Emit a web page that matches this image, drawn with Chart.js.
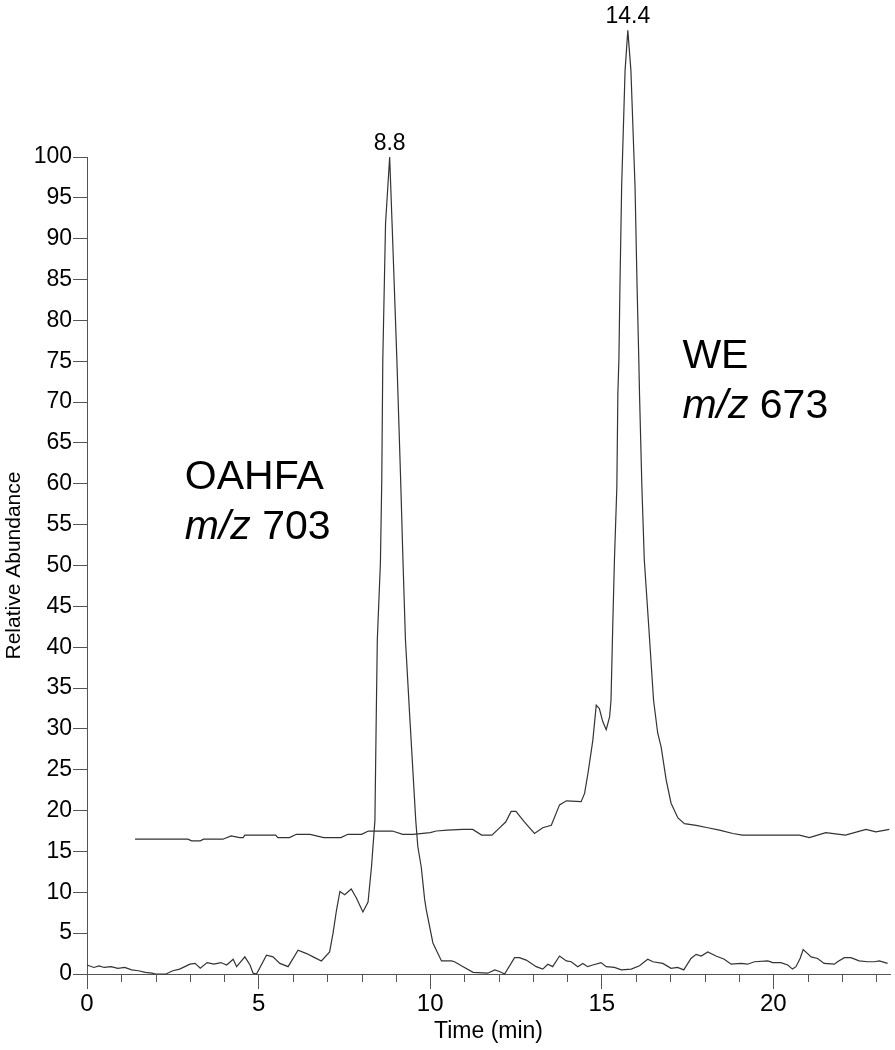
<!DOCTYPE html>
<html>
<head>
<meta charset="utf-8">
<script src="https://cdn.jsdelivr.net/npm/chart.js@4.4.1/dist/chart.umd.min.js"></script>
<style>
  html, body { margin: 0; padding: 0; background: #fff; }
  #wrap { width: 895px; height: 1050px; }
</style>
</head>
<body>
<div id="wrap"><canvas id="chrom" width="895" height="1050"></canvas></div>
<script>
// Extracted ion chromatograms. Times in minutes, abundance in % of the OAHFA apex.
// The WE trace sits on the instrument's offset baseline (starts ~1.4 min, ~16.5 %).
const timeOahfa = [
  0, 0.2, 0.35, 0.5, 0.7, 0.9, 1.1, 1.3, 1.5, 1.7, 1.9, 2.0, 2.3, 2.5, 2.7, 2.85,
  3.0, 3.15, 3.3, 3.5, 3.7, 3.9, 4.07, 4.26, 4.36, 4.6, 4.75, 4.84, 4.94, 5.23, 5.42, 5.62,
  5.86, 6.15, 6.4, 6.59, 6.83, 7.07, 7.17, 7.27, 7.37, 7.51, 7.7, 7.85, 8.04, 8.19, 8.29, 8.39,
  8.43, 8.46, 8.55, 8.59, 8.62, 8.7, 8.82, 8.89, 9.03, 9.14, 9.21, 9.28, 9.4, 9.58, 9.64, 9.74,
  9.84, 9.89, 10.08, 10.33, 10.62, 10.71, 10.96, 11.25, 11.68, 11.88, 12.02, 12.17, 12.46, 12.6, 12.8, 13.09,
  13.28, 13.43, 13.57, 13.77, 13.97, 14.11, 14.3, 14.45, 14.59, 14.74, 14.98, 15.13, 15.37, 15.57, 15.86, 16.1,
  16.34, 16.49, 16.78, 17.02, 17.21, 17.39, 17.6, 17.75, 17.9, 18.09, 18.33, 18.57, 18.77, 19.06, 19.25, 19.45,
  19.84, 19.98, 20.22, 20.42, 20.56, 20.66, 20.78, 20.87, 21.0, 21.1, 21.29, 21.48, 21.78, 21.87, 22.07, 22.26,
  22.5, 22.75, 22.94, 23.09, 23.33
];
const abundOahfa = [
  1.1, 0.8, 1.0, 0.8, 0.9, 0.7, 0.8, 0.5, 0.4, 0.2, 0.1, 0, 0, 0.4, 0.6, 0.9,
  1.2, 1.3, 0.7, 1.4, 1.2, 1.4, 1.1, 1.8, 0.9, 2.1, 1.1, 0.1, 0, 2.3, 2.1, 1.3,
  0.9, 2.9, 2.5, 2.1, 1.6, 2.7, 5.0, 7.8, 10.1, 9.7, 10.4, 9.3, 7.6, 8.8, 13.1, 18.8,
  31.9, 40.9, 50.3, 60.5, 75.2, 91.9, 100, 91.9, 75.2, 60.5, 50.3, 40.9, 31.9, 18.8, 15.6, 13.1,
  9.1, 7.8, 3.8, 1.6, 1.6, 1.5, 0.9, 0.2, 0.1, 0.5, 0.3, 0, 2.0, 2.0, 1.7, 0.9,
  0.6, 1.2, 0.9, 2.2, 1.6, 1.5, 0.9, 1.3, 0.9, 1.1, 1.4, 0.9, 0.8, 0.5, 0.6, 1.0,
  1.8, 1.5, 1.3, 0.7, 0.8, 0.5, 1.9, 2.4, 2.2, 2.7, 2.2, 1.8, 1.2, 1.3, 1.2, 1.5,
  1.6, 1.4, 1.4, 1.1, 0.6, 0.9, 1.9, 3.0, 2.5, 2.1, 1.9, 1.3, 1.2, 1.5, 2.0, 2.0,
  1.6, 1.5, 1.5, 1.6, 1.3
];

const timeWe = [
  1.4, 2.94, 3.05, 3.3, 3.4, 3.96, 4.2, 4.45, 4.55, 4.6, 5.5, 5.56, 5.9, 6.1, 6.5, 6.9,
  7.4, 7.6, 8.0, 8.2, 8.9, 9.2, 9.5, 10.0, 10.18, 10.5, 10.95, 11.24, 11.5, 11.8, 12.0, 12.2,
  12.36, 12.5, 12.75, 13.04, 13.28, 13.53, 13.77, 13.97, 14.4, 14.5, 14.6, 14.74, 14.84, 14.93, 15.03, 15.13,
  15.23, 15.27, 15.32, 15.37, 15.44, 15.47, 15.5, 15.53, 15.58, 15.68, 15.76, 15.85, 15.97, 16.03, 16.08, 16.1,
  16.17, 16.24, 16.37, 16.51, 16.63, 16.73, 16.88, 17.02, 17.22, 17.41, 17.75, 18.09, 18.43, 18.82, 19.1, 20.76,
  21.05, 21.53, 22.1, 22.7, 22.99, 23.38
];
const abundWe = [
  16.5, 16.5, 16.3, 16.3, 16.5, 16.5, 16.9, 16.7, 16.7, 17.0, 17.0, 16.7, 16.7, 17.1, 17.1, 16.7,
  16.7, 17.1, 17.1, 17.5, 17.5, 17.1, 17.1, 17.3, 17.5, 17.6, 17.7, 17.7, 17.0, 17.0, 17.8, 18.6,
  19.9, 19.9, 18.6, 17.2, 17.9, 18.2, 20.7, 21.2, 21.1, 22.1, 24.6, 28.6, 32.9, 32.5, 30.9, 29.9,
  31.5, 33.5, 42.5, 50.7, 59.6, 71.1, 75.2, 84.1, 96.4, 110.6, 115.5, 110.6, 96.4, 84.1, 75.2, 71.1,
  59.6, 50.7, 42.5, 33.5, 29.5, 27.8, 23.7, 20.9, 19.1, 18.4, 18.2, 17.9, 17.6, 17.2, 17.0, 17.0,
  16.7, 17.3, 17.0, 17.7, 17.4, 17.7
];

const xMajorTicks = [0, 5, 10, 15, 20];
const xMinorTicks = [1, 2, 3, 4, 6, 7, 8, 9, 11, 12, 13, 14, 16, 17, 18, 19, 21, 22, 23];
const yTicks = [0, 5, 10, 15, 20, 25, 30, 35, 40, 45, 50, 55, 60, 65, 70, 75, 80, 85, 90, 95, 100];

// apex labels (retention times as reported by the instrument) and compound tags
const apexLabels = ['8.8', '14.4'];
const compoundNames = ['OAHFA', 'WE'];
const compoundMz = ['703', '673'];

const FONT = '"Liberation Sans", Arial, sans-serif';
const INK = '#333';
const AXIS = '#555';

const pts = (xs, ys) => xs.map((x, i) => ({ x, y: ys[i] }));

// Label anchors in data units (left edge, baselines of the two lines).
const tagAnchors = [
  { x: 2.85, y1: 59.4, y2: 53.3 },
  { x: 17.35, y1: 74.2, y2: 68.1 },
];

const annotate = {
  id: 'annotate',
  afterDatasetsDraw(chart) {
    const { ctx, scales: { x, y } } = chart;
    ctx.save();
    ctx.fillStyle = '#000';

    // retention time over each apex
    ctx.font = `23px ${FONT}`;
    ctx.textAlign = 'center';
    ctx.textBaseline = 'alphabetic';
    chart.data.datasets.forEach((ds, i) => {
      let top = ds.data[0];
      ds.data.forEach(p => { if (p.y > top.y) top = p; });
      ctx.fillText(apexLabels[i], x.getPixelForValue(top.x), y.getPixelForValue(top.y) - 7);
    });

    // compound name + m/z, "m/z" in italics
    ctx.textAlign = 'left';
    tagAnchors.forEach((a, i) => {
      const left = x.getPixelForValue(a.x);
      ctx.font = `41px ${FONT}`;
      ctx.fillText(compoundNames[i], left, y.getPixelForValue(a.y1));
      const base2 = y.getPixelForValue(a.y2);
      ctx.font = `italic 41px ${FONT}`;
      ctx.fillText('m/z', left, base2);
      const w = ctx.measureText('m/z ').width;
      ctx.font = `41px ${FONT}`;
      ctx.fillText(compoundMz[i], left + w, base2);
    });

    // short minor ticks on the time axis
    ctx.strokeStyle = AXIS;
    ctx.lineWidth = 1;
    ctx.beginPath();
    xMinorTicks.forEach(v => {
      const px = Math.round(x.getPixelForValue(v)) + 0.5;
      ctx.moveTo(px, y.bottom);
      ctx.lineTo(px, y.bottom + 8);
    });
    ctx.stroke();
    ctx.restore();
  },
};

new Chart(document.getElementById('chrom'), {
  type: 'line',
  data: {
    datasets: [
      { label: 'OAHFA m/z 703', data: pts(timeOahfa, abundOahfa) },
      { label: 'WE m/z 673', data: pts(timeWe, abundWe) },
    ],
  },
  options: {
    responsive: false,
    animation: false,
    events: [],
    layout: { padding: { top: 157, right: 5, left: 0, bottom: 0 } },
    elements: {
      line: { borderColor: INK, borderWidth: 1.2, tension: 0, fill: false },
      point: { radius: 0 },
    },
    datasets: { line: { clip: false } },
    plugins: { legend: { display: false }, tooltip: { enabled: false } },
    scales: {
      x: {
        type: 'linear',
        min: 0,
        max: 23.4,
        afterFit: s => { s.height = 76; },
        afterBuildTicks: s => { s.ticks = xMajorTicks.map(value => ({ value })); },
        ticks: { color: '#000', font: { family: FONT, size: 24 }, padding: 1, autoSkip: false, maxRotation: 0 },
        grid: { drawOnChartArea: false, drawTicks: true, tickLength: 15, color: AXIS },
        border: { color: AXIS, width: 1 },
        title: { display: true, text: 'Time (min)', color: '#000', font: { family: FONT, size: 23 }, padding: { top: 0, bottom: 5 } },
      },
      y: {
        min: 0,
        max: 100,
        afterFit: s => { s.width = 87; },
        afterBuildTicks: s => { s.ticks = yTicks.map(value => ({ value })); },
        ticks: { color: '#000', font: { family: FONT, size: 23 }, padding: 1 },
        grid: { drawOnChartArea: false, drawTicks: true, tickLength: 14, color: AXIS },
        border: { color: AXIS, width: 1 },
        title: { display: true, text: 'Relative Abundance', color: '#000', font: { family: FONT, size: 21 }, padding: { top: 2, bottom: 0 } },
      },
    },
  },
  plugins: [annotate],
});
</script>
</body>
</html>
